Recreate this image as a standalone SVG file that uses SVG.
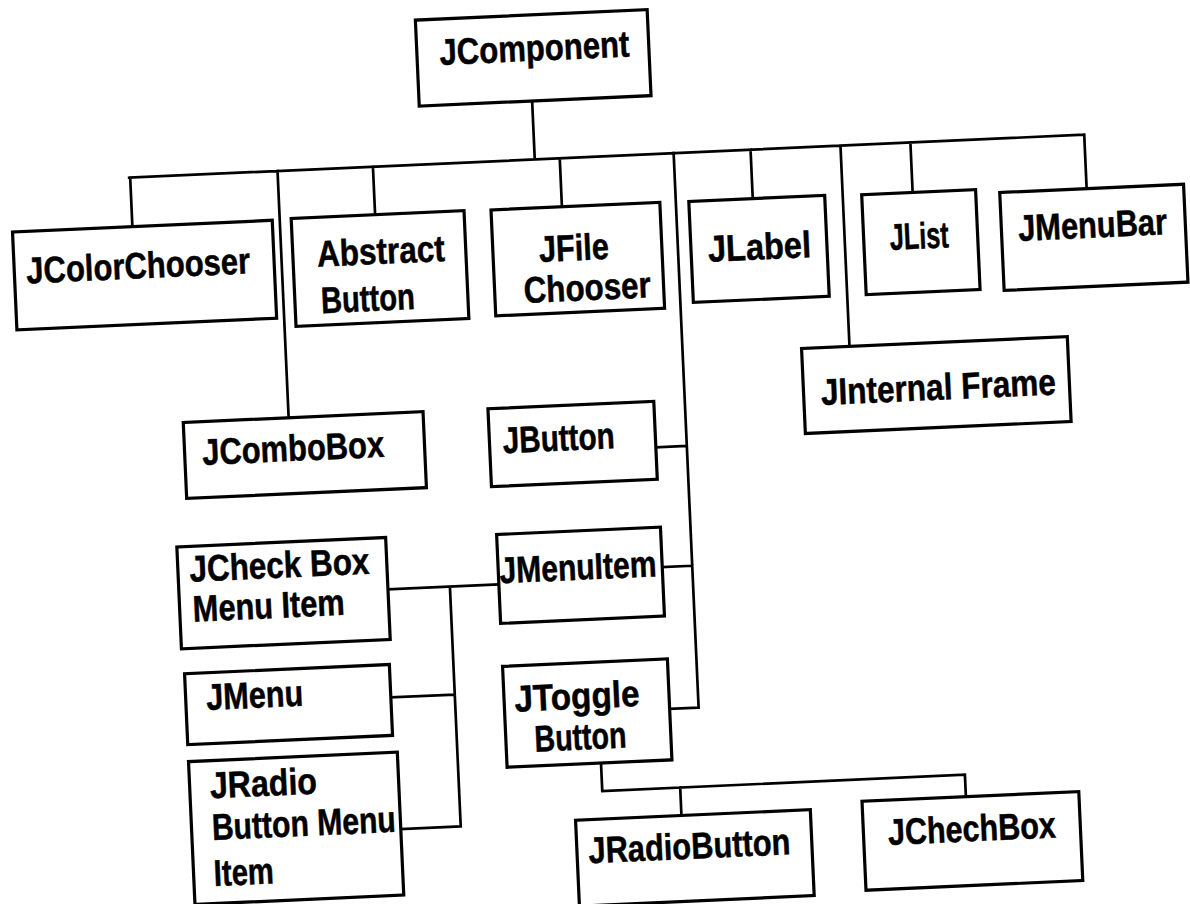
<svg xmlns="http://www.w3.org/2000/svg" width="1190" height="904" viewBox="0 0 1190 904">
<style>
.box{fill:#fff;stroke:#000;stroke-width:3.2}
.c{fill:none;stroke:#000;stroke-width:2.7;stroke-linecap:square}
text{font-family:"Liberation Sans Narrow","Liberation Sans",Arial,sans-serif;font-weight:bold;font-size:37px;fill:#000;stroke:#000;stroke-width:0.5}
</style>
<rect width="1190" height="904" fill="#fff"/>
<g transform="rotate(-2.58 595 452)">
<g id="connectors">
<path class="c" d="M548,98.5V157 M142,157H1098 M143,157V206 M290.5,157V404 M386,157V205 M573,157V205.5 M687,157V712 M764,157V206 M854,157V358 M924,157V207 M1098,157V211 M656,450H687 M657,570H687 M658,712H687 M382,580H493 M444,580V820 M380,688H444 M384,820H444 M587,763V791H950V813 M665,791V819"/>
</g>
<g id="jcomponent"><rect class="box" x="435" y="12.5" width="232" height="86"/><text x="457.6" y="58.4" textLength="190" lengthAdjust="spacingAndGlyphs">JComponent</text></g>
<g id="jcolorchooser"><rect class="box" x="23" y="206" width="260" height="98"/><text x="35" y="258" textLength="224" lengthAdjust="spacingAndGlyphs">JColorChooser</text></g>
<g id="abstractbutton"><rect class="box" x="302" y="205" width="173" height="108"/><text x="326" y="254.4" textLength="128" lengthAdjust="spacingAndGlyphs">Abstract</text><text x="328" y="301" textLength="94" lengthAdjust="spacingAndGlyphs">Button</text></g>
<g id="jfilechooser"><rect class="box" x="502" y="205.5" width="169" height="106"/><text x="548" y="259.7" textLength="70" lengthAdjust="spacingAndGlyphs">JFile</text><text x="531" y="300" textLength="127" lengthAdjust="spacingAndGlyphs">Chooser</text></g>
<g id="jlabel"><rect class="box" x="700" y="206" width="136" height="101"/><text x="717" y="267" textLength="103" lengthAdjust="spacingAndGlyphs">JLabel</text></g>
<g id="jlist"><rect class="box" x="873" y="207" width="114" height="100"/><text x="899" y="263.5" textLength="59" lengthAdjust="spacingAndGlyphs">JList</text></g>
<g id="jmenubar"><rect class="box" x="1011" y="211" width="184" height="98"/><text transform="translate(1027.7 260.3) scale(0.833 1)" x="0" y="0">JMenuBar</text></g>
<g id="jinternalframe"><rect class="box" x="806" y="358" width="266" height="85"/><text x="823.4" y="415.2" textLength="235" lengthAdjust="spacingAndGlyphs">JInternal Frame</text></g>
<g id="jcombobox"><rect class="box" x="185" y="404" width="240" height="76"/><text x="202.6" y="447.3" textLength="182" lengthAdjust="spacingAndGlyphs">JComboBox</text></g>
<g id="jbutton"><rect class="box" x="490" y="404" width="166" height="78"/><text x="503.3" y="449.2" textLength="112" lengthAdjust="spacingAndGlyphs">JButton</text></g>
<g id="jmenuitem"><rect class="box" x="493" y="530" width="164" height="89"/><text x="494.2" y="578.9" textLength="157" lengthAdjust="spacingAndGlyphs">JMenuItem</text></g>
<g id="jtogglebutton"><rect class="box" x="493" y="662" width="165" height="101"/><text x="503.4" y="707.8" textLength="125" lengthAdjust="spacingAndGlyphs">JToggle</text><text x="521.6" y="748.7" textLength="92" lengthAdjust="spacingAndGlyphs">Button</text></g>
<g id="jcheckboxmenuitem"><rect class="box" x="173" y="528" width="209" height="102"/><text x="184.6" y="563.4" textLength="180" lengthAdjust="spacingAndGlyphs">JCheck Box</text><text x="186.1" y="603.4" textLength="152" lengthAdjust="spacingAndGlyphs">Menu Item</text></g>
<g id="jmenu"><rect class="box" x="175" y="655" width="205" height="71"/><text x="195.5" y="692.2" textLength="97" lengthAdjust="spacingAndGlyphs">JMenu</text></g>
<g id="jradiobuttonmenuitem"><rect class="box" x="175" y="743" width="209" height="143"/><text x="195.3" y="780.7" textLength="107" lengthAdjust="spacingAndGlyphs">JRadio</text><text x="195.3" y="822.4" textLength="184" lengthAdjust="spacingAndGlyphs">Button Menu</text><text x="195.2" y="868.5" textLength="60" lengthAdjust="spacingAndGlyphs">Item</text></g>
<g id="jradiobutton"><rect class="box" x="559" y="819" width="235" height="86"/><text x="570.5" y="862.6" textLength="202" lengthAdjust="spacingAndGlyphs">JRadioButton</text></g>
<g id="jchechbox"><rect class="box" x="846" y="813" width="217" height="89"/><text x="870.5" y="857.8" textLength="168" lengthAdjust="spacingAndGlyphs">JChechBox</text></g>
</g>
</svg>
